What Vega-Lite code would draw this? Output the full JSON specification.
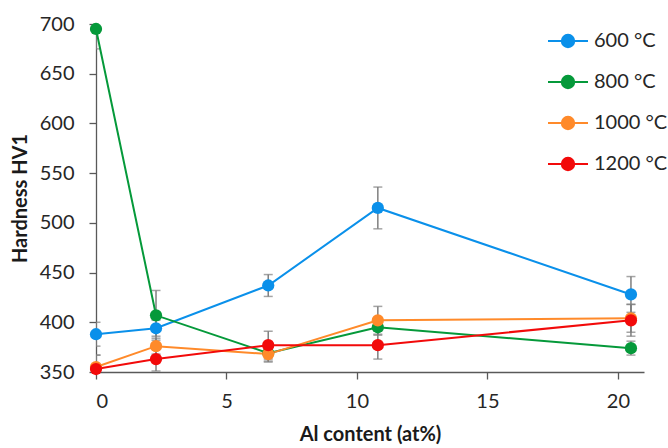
{
  "$schema": "https://vega.github.io/schema/vega-lite/v6.json",
  "width": 548,
  "height": 348,
  "autosize": {"type": "none"},
  "padding": {"left": 96, "top": 24, "right": 24, "bottom": 76},
  "background": "white",
  "config": {
    "view": {"stroke": null},
    "font": "Lato",
    "axis": {
      "grid": false,
      "domainColor": "#595959",
      "domainWidth": 1.3,
      "tickColor": "#595959",
      "tickWidth": 1.3,
      "tickSize": 7,
      "labelFont": "Lato",
      "labelFontSize": 20,
      "labelColor": "#262626",
      "titleFont": "Lato",
      "titleFontSize": 20,
      "titleFontWeight": "bold",
      "titleColor": "#1a1a1a"
    }
  },
  "data": {
    "values": [
      {"series": "600 °C", "al": 0, "hv": 388, "lo": 376, "hi": 400},
      {"series": "600 °C", "al": 2.3, "hv": 394, "lo": 386, "hi": 402},
      {"series": "600 °C", "al": 6.6, "hv": 437, "lo": 426, "hi": 448},
      {"series": "600 °C", "al": 10.8, "hv": 515, "lo": 494, "hi": 536},
      {"series": "600 °C", "al": 20.5, "hv": 428, "lo": 410, "hi": 446},
      {"series": "800 °C", "al": 0, "hv": 695, "lo": 675, "hi": 715},
      {"series": "800 °C", "al": 2.3, "hv": 407, "lo": 382, "hi": 432},
      {"series": "800 °C", "al": 6.6, "hv": 369, "lo": 361, "hi": 377},
      {"series": "800 °C", "al": 10.8, "hv": 395, "lo": 387, "hi": 403},
      {"series": "800 °C", "al": 20.5, "hv": 374, "lo": 367, "hi": 381},
      {"series": "1000 °C", "al": 0, "hv": 355, "lo": 343, "hi": 367},
      {"series": "1000 °C", "al": 2.3, "hv": 376, "lo": 368, "hi": 384},
      {"series": "1000 °C", "al": 6.6, "hv": 368, "lo": 360, "hi": 376},
      {"series": "1000 °C", "al": 10.8, "hv": 402, "lo": 388, "hi": 416},
      {"series": "1000 °C", "al": 20.5, "hv": 404, "lo": 390, "hi": 418},
      {"series": "1200 °C", "al": 0, "hv": 353, "lo": 339, "hi": 367},
      {"series": "1200 °C", "al": 2.3, "hv": 363, "lo": 351, "hi": 375},
      {"series": "1200 °C", "al": 6.6, "hv": 377, "lo": 363, "hi": 391},
      {"series": "1200 °C", "al": 10.8, "hv": 377, "lo": 363, "hi": 391},
      {"series": "1200 °C", "al": 20.5, "hv": 402, "lo": 386, "hi": 418}
    ]
  },
  "encoding": {
    "x": {
      "field": "al",
      "type": "quantitative",
      "scale": {"domain": [0, 21], "nice": false, "zero": false},
      "axis": {"values": [0, 5, 10, 15, 20], "title": "Al content (at%)", "labelPadding": 12, "titleY": 52, "titleX": 274}
    }
  },
  "layer": [
    {
      "mark": {"type": "rule", "color": "#7f7f7f", "strokeWidth": 1.5, "clip": true},
      "encoding": {
        "y": {"field": "lo", "type": "quantitative"},
        "y2": {"field": "hi"}
      }
    },
    {
      "mark": {"type": "tick", "orient": "horizontal", "color": "#7f7f7f", "size": 9, "thickness": 1.5, "clip": true},
      "encoding": {
        "y": {"field": "lo", "type": "quantitative"}
      }
    },
    {
      "mark": {"type": "tick", "orient": "horizontal", "color": "#7f7f7f", "size": 9, "thickness": 1.5, "clip": true},
      "encoding": {
        "y": {"field": "hi", "type": "quantitative"}
      }
    },
    {
      "mark": {"type": "line", "strokeWidth": 2},
      "encoding": {
        "y": {"field": "hv", "type": "quantitative"},
        "color": {"field": "series", "type": "nominal", "sort": ["600 °C", "800 °C", "1000 °C", "1200 °C"]}
      }
    },
    {
      "mark": {"type": "point", "filled": true, "opacity": 1, "size": 150, "shape": "circle"},
      "encoding": {
        "y": {
          "field": "hv",
          "type": "quantitative",
          "scale": {"domain": [350, 700], "nice": false, "zero": false},
          "axis": {"values": [350, 400, 450, 500, 550, 600, 650, 700], "title": "Hardness HV1", "labelPadding": 15, "titleX": -66, "titleY": 174}
        },
        "color": {
          "field": "series",
          "type": "nominal",
          "sort": ["600 °C", "800 °C", "1000 °C", "1200 °C"],
          "scale": {
            "domain": ["600 °C", "800 °C", "1000 °C", "1200 °C"],
            "range": ["#0a90ea", "#05993a", "#ff8a2a", "#f20a0a"]
          },
          "legend": {
            "title": null,
            "orient": "none",
            "legendX": 461,
            "legendY": 6,
            "padding": 0,
            "symbolType": "M -2 0 L 2 0 M -0.62 0 A 0.62 0.62 0 1 0 0.62 0 A 0.62 0.62 0 1 0 -0.62 0 Z",
            "symbolSize": 400,
            "symbolStrokeWidth": 2,
            "symbolOpacity": 1,
            "symbolFillColor": "#888888",
            "labelFont": "Lato",
            "labelFontSize": 20,
            "labelColor": "#262626",
            "labelOffset": 15,
            "rowPadding": 19
          }
        }
      }
    }
  ]
}
